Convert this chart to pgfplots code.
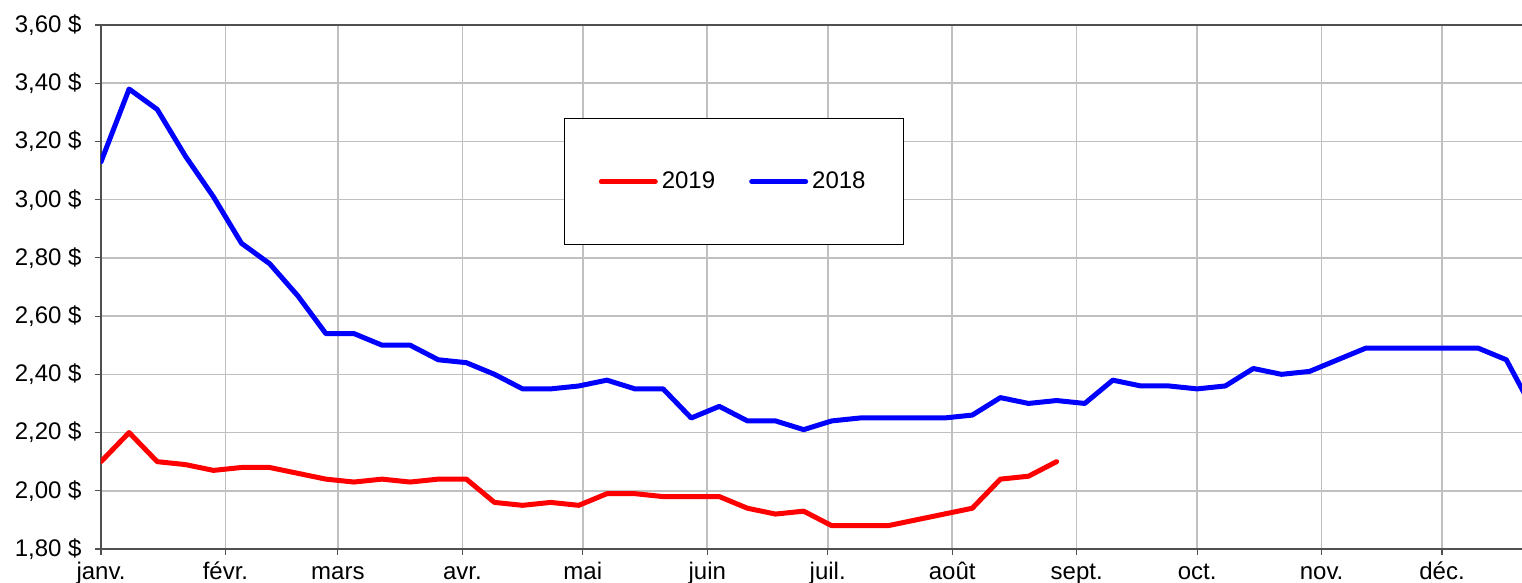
\documentclass[border=0pt]{standalone}
\usepackage{fontspec}
\setmainfont{Liberation Sans}
\usepackage{pgfplots}
\pgfplotsset{compat=1.18}
\definecolor{gridgray}{RGB}{192,192,192}
\definecolor{axgray}{RGB}{80,80,80}
\begin{document}
\fontsize{12}{14}\selectfont
\begin{tikzpicture}
\begin{axis}[
 at={(0,0)}, anchor=south west,
 scale only axis, width=716.7pt, height=262pt,
 xmin=0, xmax=357, ymin=1.8, ymax=3.6,
 xtick={0,31,59,90,120,151,181,212,243,273,304,334},
 xticklabels={janv.,févr.,mars,avr.,mai,juin,juil.,août,sept.,oct.,nov.,déc.},
 ytick={1.8,2.0,2.2,2.4,2.6,2.8,3.0,3.2,3.4,3.6},
 yticklabels={{1,80 \$},{2,00 \$},{2,20 \$},{2,40 \$},{2,60 \$},{2,80 \$},{3,00 \$},{3,20 \$},{3,40 \$},{3,60 \$}},
 tick align=outside, tick pos=left, major tick length=3pt,
 grid=major, grid style={gridgray, line width=0.8pt},
 axis line style={axgray, line width=0.6pt},
 tick style={axgray, line width=0.6pt},
 ticklabel style={font=\fontsize{12}{14}\selectfont},
 xticklabel style={text height=8.8pt, text depth=2.5pt, anchor=north, yshift=0.8pt},
 yticklabel style={xshift=-2.5pt},
 legend columns=2,
 legend style={at={(0.3232,0.8225)}, anchor=north west, draw=black, line width=0.5pt,
   inner xsep=17pt, inner ysep=24.5pt, font=\fontsize{12}{14}\selectfont,
   /tikz/every even column/.append style={column sep=15pt}},
 legend image code/.code={\path (0pt,0pt) -- (2pt,0pt);\draw[#1, line width=2.5pt, line cap=round] (2pt,0pt) -- (27pt,0pt);},
]
\addplot[red, line width=2.5pt, line join=round, line cap=round] coordinates {
(0,2.10) (7,2.20) (14,2.10) (21,2.09) (28,2.07) (35,2.08) (42,2.08) (49,2.06)
(56,2.04) (63,2.03) (70,2.04) (77,2.03) (84,2.04) (91,2.04) (98,1.96) (105,1.95)
(112,1.96) (119,1.95) (126,1.99) (133,1.99) (140,1.98) (147,1.98) (154,1.98) (161,1.94)
(168,1.92) (175,1.93) (182,1.88) (189,1.88) (196,1.88) (203,1.90) (210,1.92) (217,1.94)
(224,2.04) (231,2.05) (238,2.10)
};
\addlegendentry{2019}
\addplot[blue, line width=2.5pt, line join=round, line cap=round] coordinates {
(0,3.13) (7,3.38) (14,3.31) (21,3.15) (28,3.01) (35,2.85) (42,2.78) (49,2.67)
(56,2.54) (63,2.54) (70,2.50) (77,2.50) (84,2.45) (91,2.44) (98,2.40) (105,2.35)
(112,2.35) (119,2.36) (126,2.38) (133,2.35) (140,2.35) (147,2.25) (154,2.29) (161,2.24)
(168,2.24) (175,2.21) (182,2.24) (189,2.25) (196,2.25) (203,2.25) (210,2.25) (217,2.26)
(224,2.32) (231,2.30) (238,2.31) (245,2.30) (252,2.38) (259,2.36) (266,2.36) (273,2.35)
(280,2.36) (287,2.42) (294,2.40) (301,2.41) (308,2.45) (315,2.49) (322,2.49) (329,2.49)
(336,2.49) (343,2.49) (350,2.45) (357,2.27)
};
\addlegendentry{2018}
\end{axis}
\pgfresetboundingbox
\useasboundingbox (-50.5pt,-17pt) rectangle (710.5pt,274.5pt);
\end{tikzpicture}
\end{document}
